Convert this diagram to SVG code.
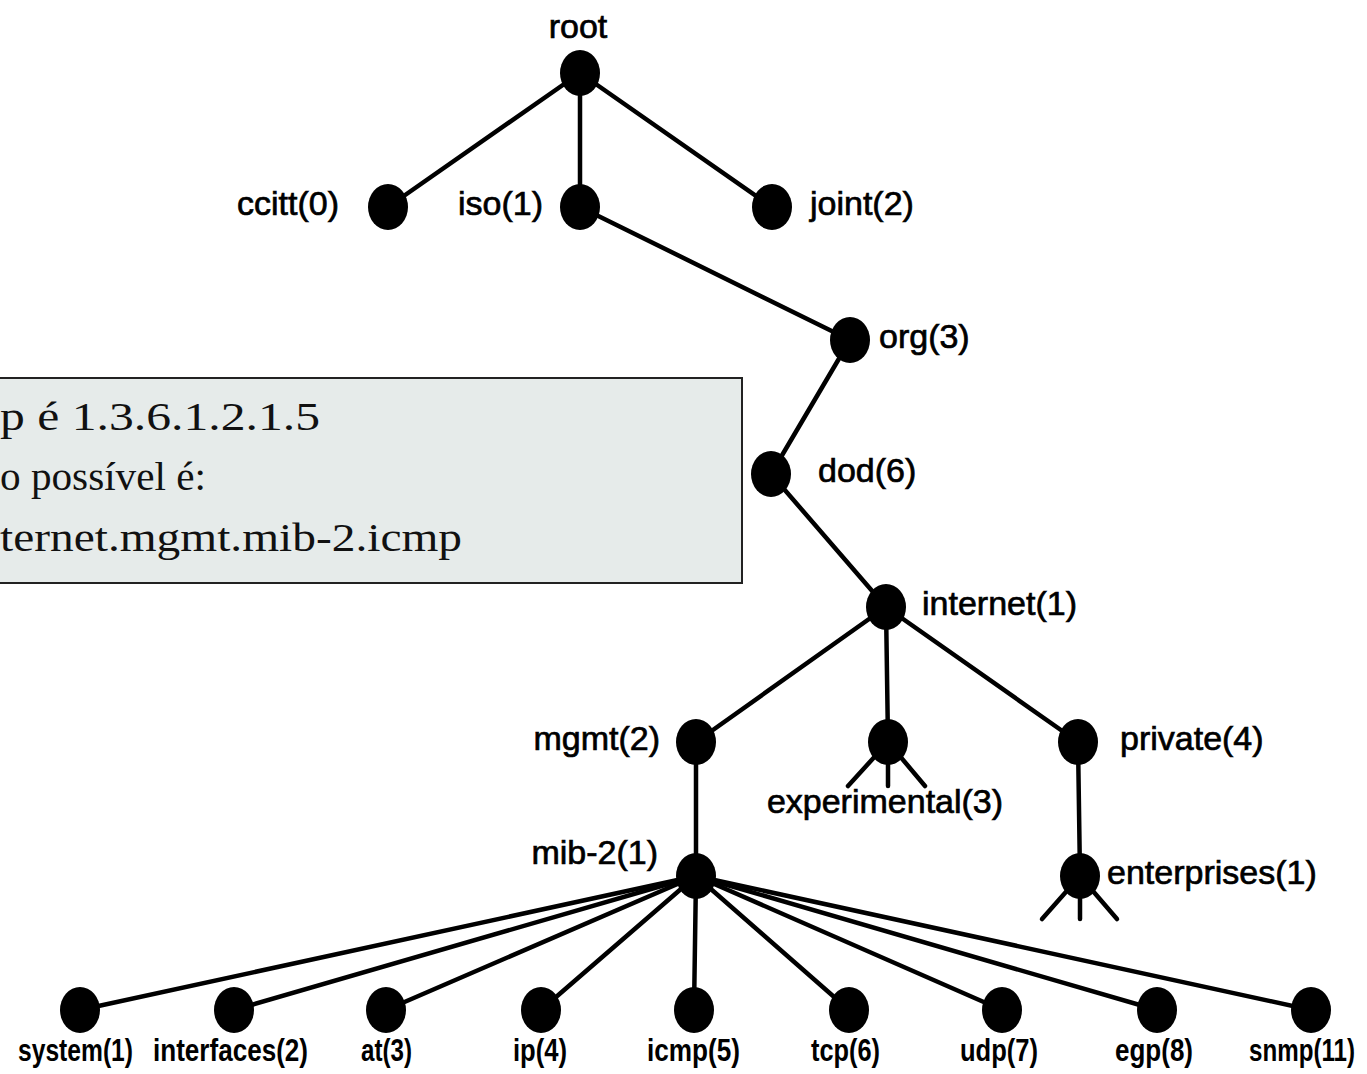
<svg xmlns="http://www.w3.org/2000/svg" width="1367" height="1074" viewBox="0 0 1367 1074">
  <style>
    .edge { stroke: #000; stroke-width: 4.5; fill: none; stroke-linecap: round; }
    .dot { fill: #000; }
    .lbl { font-family: "Liberation Sans", Arial, sans-serif; font-size: 34px; fill: #000; stroke: #000; stroke-width: 0.7; }
    .leaf { font-family: "Liberation Sans", Arial, sans-serif; font-size: 32px; font-weight: bold; fill: #000; }
    .note { font-family: "Liberation Serif", "Times New Roman", serif; font-size: 40px; fill: #111; }
  </style>
  <defs>
    <ellipse id="n" cx="0" cy="0" rx="20" ry="23"/>
  </defs>
  <rect width="1367" height="1074" fill="#fff"/>

  <!-- tree edges -->
  <g id="connectors" class="edge">
    <line x1="580" y1="73" x2="388" y2="207"/>
    <line x1="580" y1="73" x2="580" y2="207"/>
    <line x1="580" y1="73" x2="772" y2="207"/>
    <line x1="580" y1="207" x2="850" y2="340"/>
    <line x1="850" y1="340" x2="771" y2="474"/>
    <line x1="771" y1="474" x2="886" y2="607"/>
    <line x1="886" y1="607" x2="696" y2="742"/>
    <line x1="886" y1="607" x2="888" y2="742"/>
    <line x1="886" y1="607" x2="1078" y2="742"/>
    <line x1="696" y1="742" x2="696" y2="876"/>
    <line x1="1078" y1="742" x2="1080" y2="876"/>
    <!-- open subtrees -->
    <line x1="888" y1="742" x2="848" y2="786"/>
    <line x1="888" y1="742" x2="888" y2="786"/>
    <line x1="888" y1="742" x2="925" y2="786"/>
    <line x1="1080" y1="876" x2="1042" y2="919"/>
    <line x1="1080" y1="876" x2="1080" y2="919"/>
    <line x1="1080" y1="876" x2="1117" y2="919"/>
    <!-- mib-2 children -->
    <line x1="696" y1="876" x2="80" y2="1010"/>
    <line x1="696" y1="876" x2="234" y2="1010"/>
    <line x1="696" y1="876" x2="386" y2="1010"/>
    <line x1="696" y1="876" x2="541" y2="1010"/>
    <line x1="696" y1="876" x2="694" y2="1010"/>
    <line x1="696" y1="876" x2="849" y2="1010"/>
    <line x1="696" y1="876" x2="1002" y2="1010"/>
    <line x1="696" y1="876" x2="1157" y2="1010"/>
    <line x1="696" y1="876" x2="1311" y2="1010"/>
  </g>

  <!-- nodes -->
  <g id="root"><use href="#n" x="580" y="73" class="dot"/><text class="lbl" x="578" y="38" text-anchor="middle">root</text></g>
  <g id="ccitt"><use href="#n" x="388" y="207" class="dot"/><text class="lbl" x="339" y="215" text-anchor="end">ccitt(0)</text></g>
  <g id="iso"><use href="#n" x="580" y="207" class="dot"/><text class="lbl" x="543" y="215" text-anchor="end">iso(1)</text></g>
  <g id="joint"><use href="#n" x="772" y="207" class="dot"/><text class="lbl" x="810" y="215">joint(2)</text></g>
  <g id="org"><use href="#n" x="850" y="340" class="dot"/><text class="lbl" x="879" y="348">org(3)</text></g>
  <g id="dod"><use href="#n" x="771" y="474" class="dot"/><text class="lbl" x="818" y="482">dod(6)</text></g>
  <g id="internet"><use href="#n" x="886" y="607" class="dot"/><text class="lbl" x="922" y="615">internet(1)</text></g>
  <g id="mgmt"><use href="#n" x="696" y="742" class="dot"/><text class="lbl" x="660" y="750" text-anchor="end">mgmt(2)</text></g>
  <g id="experimental"><use href="#n" x="888" y="742" class="dot"/><text class="lbl" x="885" y="813" text-anchor="middle">experimental(3)</text></g>
  <g id="private"><use href="#n" x="1078" y="742" class="dot"/><text class="lbl" x="1120" y="750">private(4)</text></g>
  <g id="mib-2"><use href="#n" x="696" y="876" class="dot"/><text class="lbl" x="658" y="864" text-anchor="end">mib-2(1)</text></g>
  <g id="enterprises"><use href="#n" x="1080" y="876" class="dot"/><text class="lbl" x="1107" y="884">enterprises(1)</text></g>

  <g id="system"><use href="#n" x="80" y="1010" class="dot"/><text class="leaf" x="18" y="1061" textLength="115" lengthAdjust="spacingAndGlyphs">system(1)</text></g>
  <g id="interfaces"><use href="#n" x="234" y="1010" class="dot"/><text class="leaf" x="153" y="1061" textLength="155" lengthAdjust="spacingAndGlyphs">interfaces(2)</text></g>
  <g id="at"><use href="#n" x="386" y="1010" class="dot"/><text class="leaf" x="361" y="1061" textLength="51" lengthAdjust="spacingAndGlyphs">at(3)</text></g>
  <g id="ip"><use href="#n" x="541" y="1010" class="dot"/><text class="leaf" x="513" y="1061" textLength="54" lengthAdjust="spacingAndGlyphs">ip(4)</text></g>
  <g id="icmp"><use href="#n" x="694" y="1010" class="dot"/><text class="leaf" x="647" y="1061" textLength="93" lengthAdjust="spacingAndGlyphs">icmp(5)</text></g>
  <g id="tcp"><use href="#n" x="849" y="1010" class="dot"/><text class="leaf" x="811" y="1061" textLength="69" lengthAdjust="spacingAndGlyphs">tcp(6)</text></g>
  <g id="udp"><use href="#n" x="1002" y="1010" class="dot"/><text class="leaf" x="960" y="1061" textLength="78" lengthAdjust="spacingAndGlyphs">udp(7)</text></g>
  <g id="egp"><use href="#n" x="1157" y="1010" class="dot"/><text class="leaf" x="1115" y="1061" textLength="78" lengthAdjust="spacingAndGlyphs">egp(8)</text></g>
  <g id="snmp"><use href="#n" x="1311" y="1010" class="dot"/><text class="leaf" x="1355" y="1061" text-anchor="end" textLength="106" lengthAdjust="spacingAndGlyphs">snmp(11)</text></g>

  <!-- OID note -->
  <g id="note">
    <rect x="-4" y="378" width="746" height="205" fill="#e6ebea" stroke="#222" stroke-width="2"/>
    <text class="note" x="0" y="430" textLength="320" lengthAdjust="spacingAndGlyphs">p é 1.3.6.1.2.1.5</text>
    <text class="note" x="0" y="490" textLength="206" lengthAdjust="spacingAndGlyphs">o possível é:</text>
    <text class="note" x="0" y="551" textLength="462" lengthAdjust="spacingAndGlyphs">ternet.mgmt.mib-2.icmp</text>
  </g>
</svg>
